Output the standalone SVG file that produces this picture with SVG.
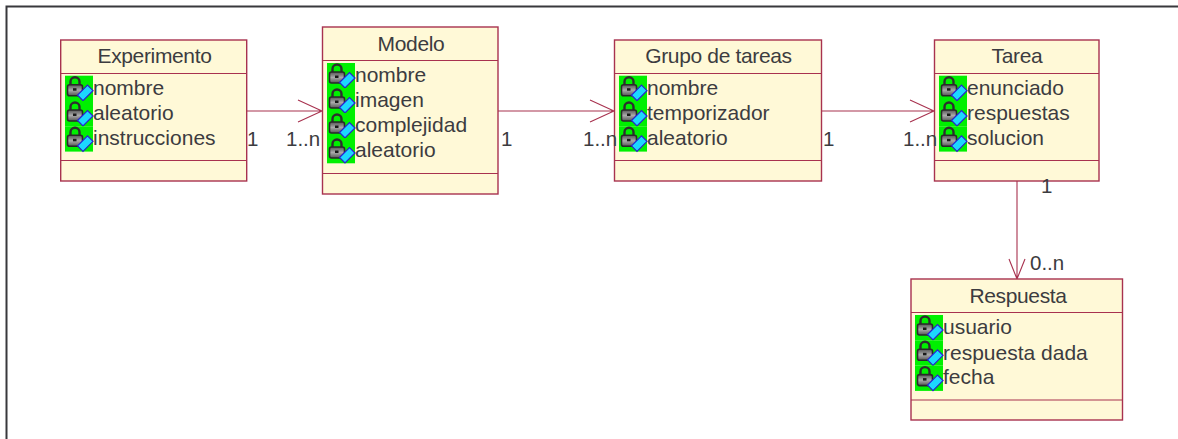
<svg xmlns="http://www.w3.org/2000/svg" width="1178" height="439" viewBox="0 0 1178 439">
<style>
.box{fill:#fff9d7;stroke:#a8324f;stroke-width:1.4}
.div{stroke:#a8324f;stroke-width:1.2;fill:none}
.conn{stroke:#a8324f;stroke-width:1.1;fill:none}
text{font-family:"Liberation Sans",Arial,sans-serif;font-size:21px;fill:#3c3c40}
.t{text-anchor:middle;letter-spacing:-.35px}
.m{font-size:20.500px}
</style>
<defs>
<linearGradient id="lockfill" x1="0" y1="0" x2="0" y2="1"><stop offset="0" stop-color="#555"/><stop offset=".5" stop-color="#aaa"/><stop offset="1" stop-color="#555"/></linearGradient>
<g id="icon">
<rect x="0" y="0" width="28" height="25.300" fill="#00f000"/>
<path d="M5.500 9V6a4.500 4.500 0 0 1 9 0V9" fill="none" stroke="#2e2e2e" stroke-width="2.400"/>
<rect x="2.500" y="9" width="15" height="11" rx="2" fill="url(#lockfill)" stroke="#2a2a2a" stroke-width="1.600"/>
<rect x="8" y="12.500" width="3.500" height="2.500" fill="#1a1a1a"/>
<path d="M12.500 19.500L22.500 9.500 28 15 18 25z" fill="#1cd8ff" stroke="#2a1fd0" stroke-width="1.200"/>
</g>
</defs>
<path d="M6.500 439V6.500H1178" fill="none" stroke="#38383c" stroke-width="2"/>
<g id="connectors">
<path class="conn" d="M247 111H322M298 100l24 11-24 11"/>
<path class="conn" d="M498 111H614M590 100l24 11-24 11"/>
<path class="conn" d="M821 111H934M910 100l24 11-24 11"/>
<path class="conn" d="M1017 181V279M1009 259l8 20 8-20"/>
</g>
<g id="node-experimento">
<rect class="box" x="60.700" y="40" width="186" height="141"/>
<path class="div" d="M61 73.500H246M61 160.500H246"/>
<use href="#icon" x="65" y="75.700"/><use href="#icon" x="65" y="101"/><use href="#icon" x="65" y="126.300"/>
<text class="t" x="154.500" y="63">Experimento</text>
<text x="93" y="95">nombre</text><text x="93" y="120">aleatorio</text><text x="93" y="145">instrucciones</text>
</g>
<g id="node-modelo">
<rect class="box" x="322.500" y="27" width="175.500" height="167"/>
<path class="div" d="M323 60.500H498M323 173.500H498"/>
<use href="#icon" x="327" y="63"/><use href="#icon" x="327" y="88"/><use href="#icon" x="327" y="113"/><use href="#icon" x="327" y="138"/>
<text class="t" x="411" y="51">Modelo</text>
<text x="355" y="82">nombre</text><text x="355" y="107">imagen</text><text x="355" y="132">complejidad</text><text x="355" y="157">aleatorio</text>
</g>
<g id="node-grupo">
<rect class="box" x="614.500" y="40" width="207" height="141"/>
<path class="div" d="M615 73.500H821M615 160.500H821"/>
<use href="#icon" x="619" y="75.700"/><use href="#icon" x="619" y="101"/><use href="#icon" x="619" y="126.300"/>
<text class="t" x="718.500" y="63">Grupo de tareas</text>
<text x="647" y="95">nombre</text><text x="647" y="120">temporizador</text><text x="647" y="145">aleatorio</text>
</g>
<g id="node-tarea">
<rect class="box" x="934.500" y="40" width="164.500" height="141"/>
<path class="div" d="M935 73.500H1099M935 160.500H1099"/>
<use href="#icon" x="939" y="75.700"/><use href="#icon" x="939" y="101"/><use href="#icon" x="939" y="126.300"/>
<text class="t" x="1017" y="63">Tarea</text>
<text x="967" y="95">enunciado</text><text x="967" y="120">respuestas</text><text x="967" y="145">solucion</text>
</g>
<g id="node-respuesta">
<rect class="box" x="911" y="279" width="211.500" height="141"/>
<path class="div" d="M911 312.500H1122M911 400H1122"/>
<use href="#icon" x="915" y="315"/><use href="#icon" x="915" y="340.300"/><use href="#icon" x="915" y="365.600"/>
<text class="t" x="1018" y="303">Respuesta</text>
<text x="943" y="334">usuario</text><text x="943" y="360">respuesta dada</text><text x="943" y="384">fecha</text>
</g>
<g id="labels">
<text class="m" x="247" y="146">1</text><text class="m" x="286" y="146">1..n</text>
<text class="m" x="501" y="146">1</text><text class="m" x="583" y="146">1..n</text>
<text class="m" x="823" y="146">1</text><text class="m" x="903" y="146">1..n</text>
<text class="m" x="1041" y="193">1</text><text class="m" x="1030" y="270">0..n</text>
</g>
</svg>
